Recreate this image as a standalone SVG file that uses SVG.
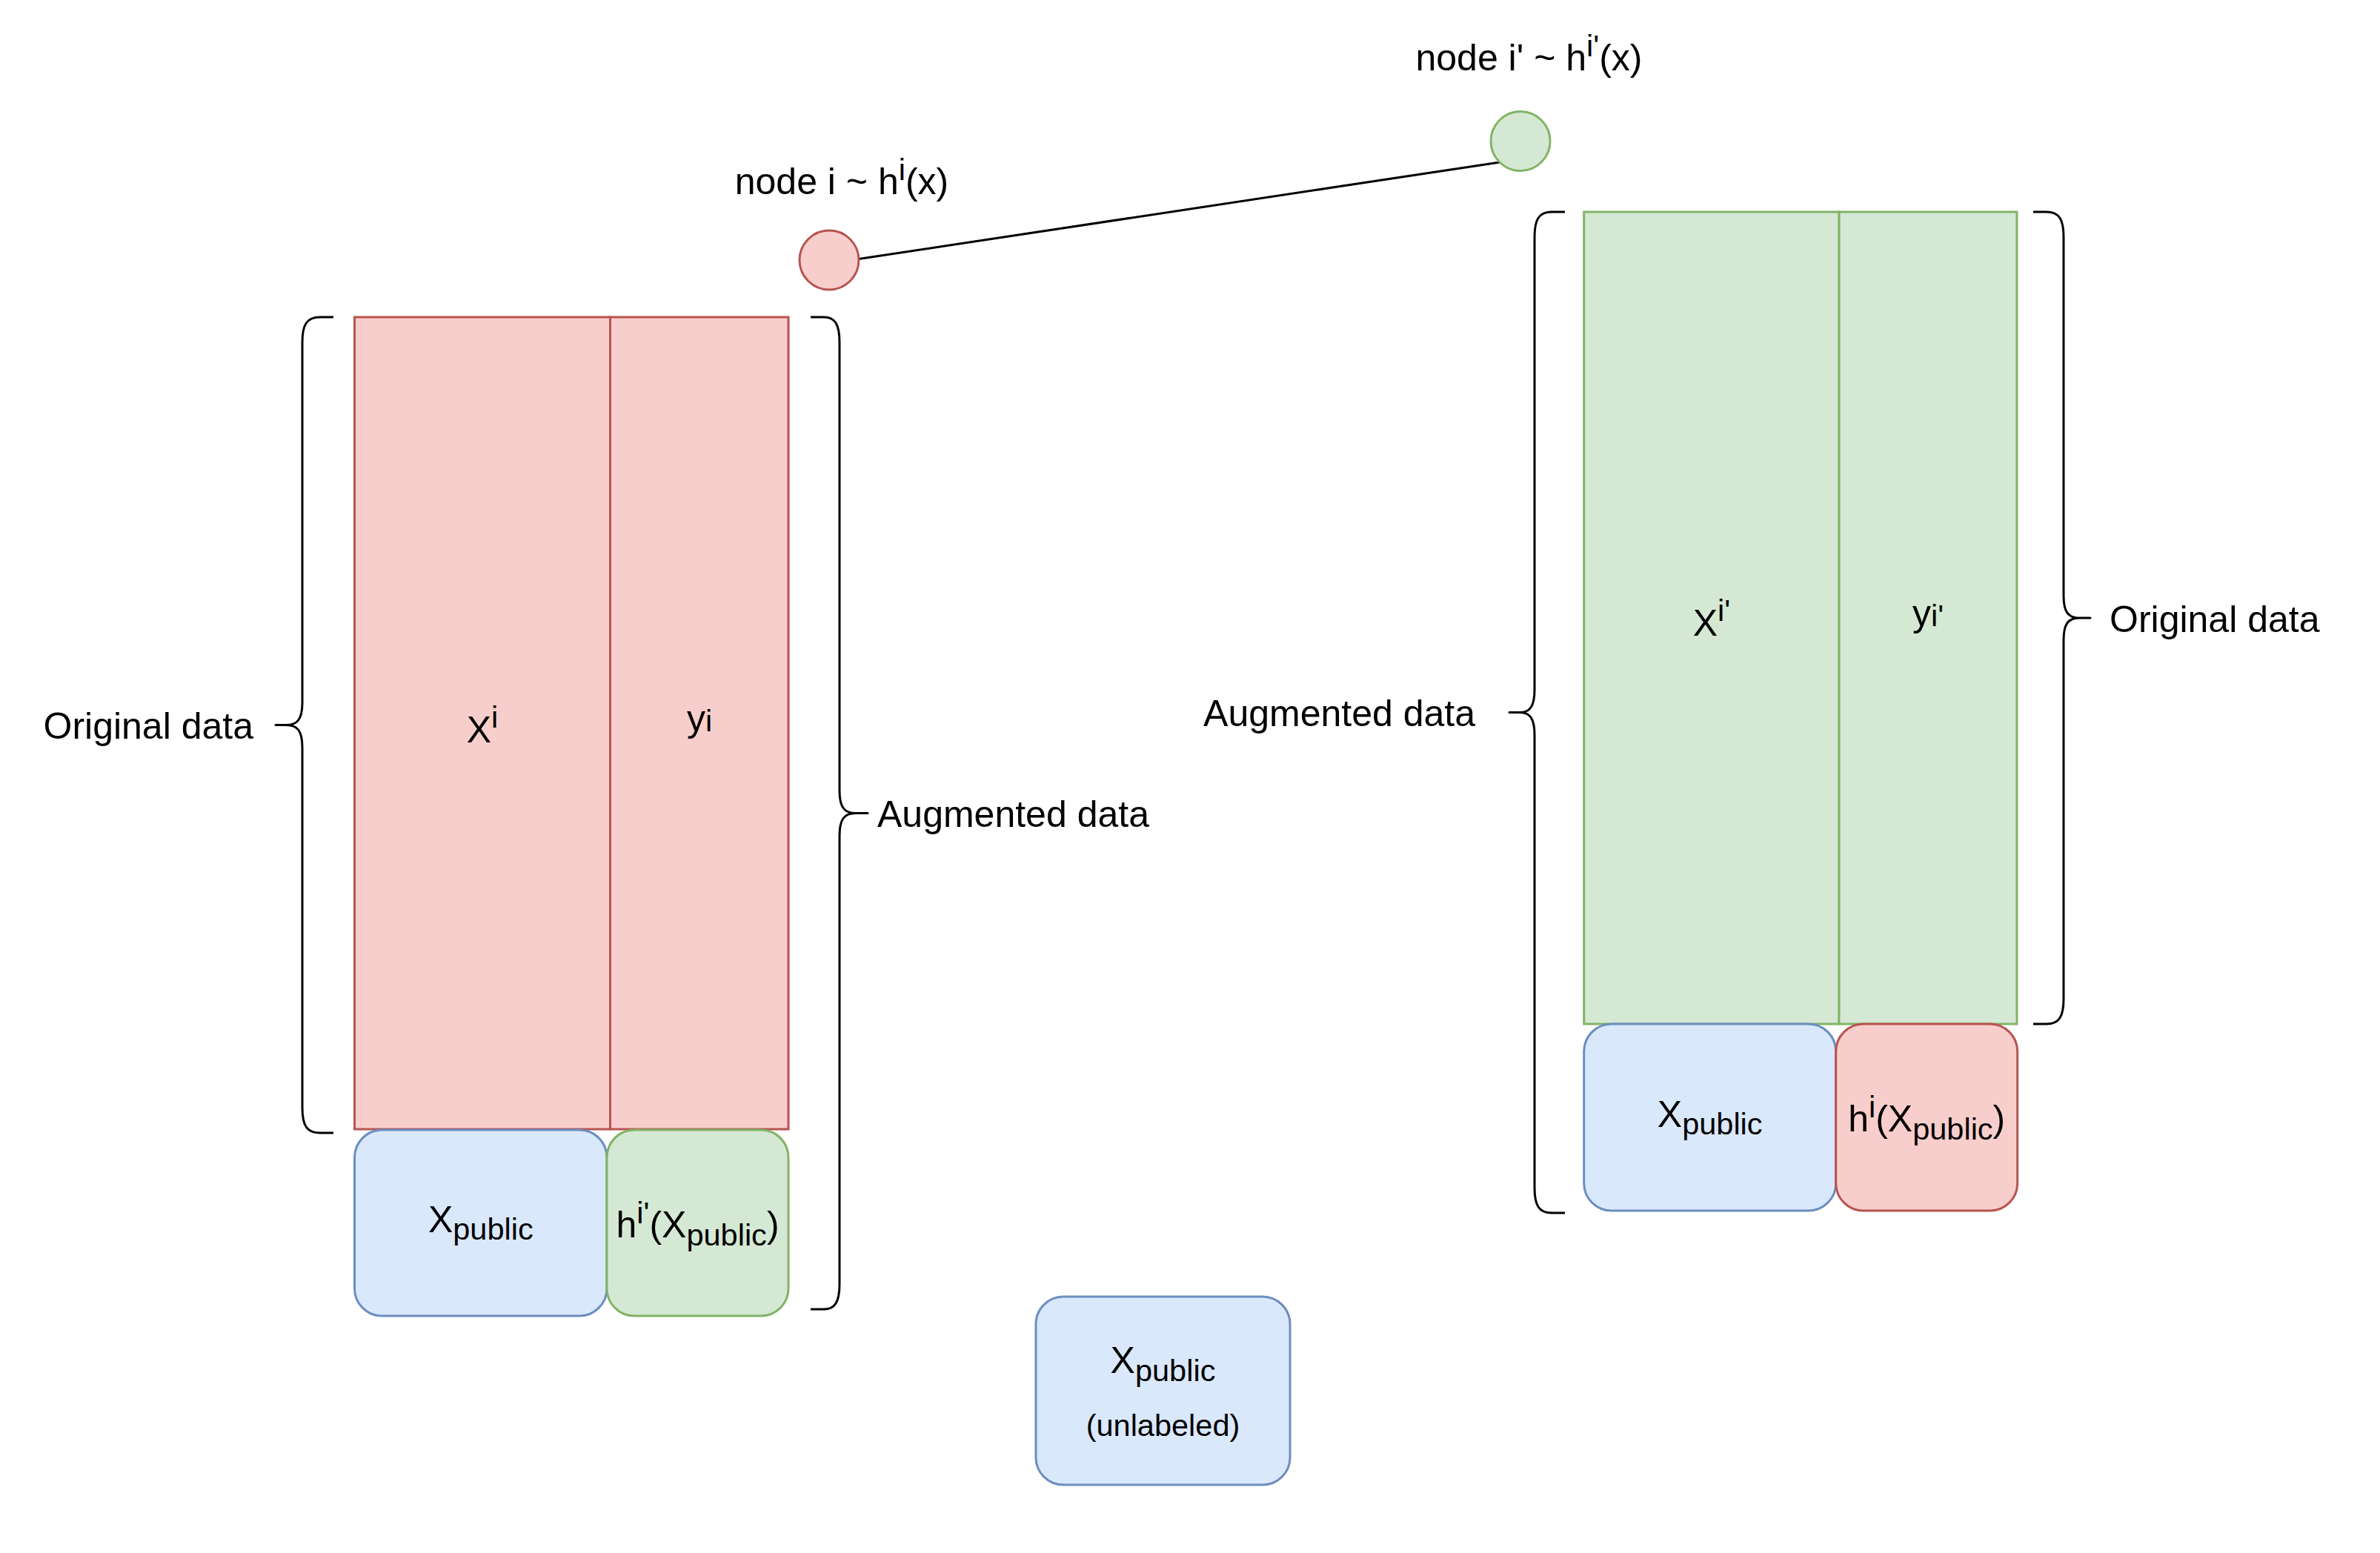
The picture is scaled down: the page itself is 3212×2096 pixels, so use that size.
<svg xmlns="http://www.w3.org/2000/svg" width="3212" height="2096" viewBox="0 0 3212 2096">
<style>
  text { font-family: "Liberation Sans", Arial, Helvetica, sans-serif; font-size: 50px; fill: #000000; }
  .small { font-size: 41.5px; }
  .red { fill: #f8cecc; stroke: #b85450; stroke-width: 3; }
  .green { fill: #d5e8d4; stroke: #82b366; stroke-width: 3; }
  .blue { fill: #dae8fc; stroke: #6c8ebf; stroke-width: 3; }
  .brace { fill: none; stroke: #000000; stroke-width: 3; stroke-linejoin: round; stroke-linecap: butt; }
  .edge { fill: none; stroke: #000000; stroke-width: 3; }
</style>
<rect x="0" y="0" width="3212" height="2096" fill="#ffffff"/>

<g id="connectors">
  <line class="edge" x1="1159" y1="349.5" x2="2024" y2="219"/>
</g>

<g id="node-i">
  <circle class="red" cx="1119" cy="351" r="40"/>
  <text x="1136" y="262" text-anchor="middle">node i ~ h<tspan class="small" dy="-19">i</tspan><tspan dy="19">(x)</tspan></text>
</g>

<g id="node-i-prime">
  <circle class="green" cx="2052" cy="190.5" r="40"/>
  <text x="2063.5" y="95" text-anchor="middle">node i' ~ h<tspan class="small" dy="-19">i'</tspan><tspan dy="19">(x)</tspan></text>
</g>

<g id="left-Xi">
  <rect class="red" x="478.5" y="428" width="345" height="1096"/>
  <text x="651" y="1002" text-anchor="middle">X<tspan class="small" dy="-20">i</tspan></text>
</g>
<g id="left-yi">
  <rect class="red" x="823.5" y="428" width="240.5" height="1096"/>
  <text x="944" y="987" text-anchor="middle">y<tspan class="small">i</tspan></text>
</g>
<g id="left-xpublic">
  <rect class="blue" x="478.5" y="1525" width="340.5" height="251" rx="37" ry="37"/>
  <text x="648.8" y="1663" text-anchor="middle">X<tspan class="small" dy="10">public</tspan></text>
</g>
<g id="left-h-iprime">
  <rect class="green" x="819" y="1525" width="245" height="251" rx="37" ry="37"/>
  <text x="941.5" y="1670" text-anchor="middle">h<tspan class="small" dy="-19">i'</tspan><tspan dy="19">(X</tspan><tspan class="small" dy="11">public</tspan><tspan dy="-11">)</tspan></text>
</g>

<g id="right-Xi">
  <rect class="green" x="2137.7" y="286" width="344.3" height="1096"/>
  <text x="2310" y="858" text-anchor="middle">X<tspan class="small" dy="-20">i'</tspan></text>
</g>
<g id="right-yi">
  <rect class="green" x="2482" y="286" width="240" height="1096"/>
  <text x="2602" y="845" text-anchor="middle">y<tspan class="small">i'</tspan></text>
</g>
<g id="right-xpublic">
  <rect class="blue" x="2137.7" y="1382" width="340" height="252" rx="37" ry="37"/>
  <text x="2307.7" y="1521" text-anchor="middle">X<tspan class="small" dy="10">public</tspan></text>
</g>
<g id="right-h-i">
  <rect class="red" x="2477.7" y="1382" width="245" height="252" rx="37" ry="37"/>
  <text x="2600.2" y="1527" text-anchor="middle">h<tspan class="small" dy="-19">i</tspan><tspan dy="19">(X</tspan><tspan class="small" dy="11">public</tspan><tspan dy="-11">)</tspan></text>
</g>

<g id="unlabeled-xpublic">
  <rect class="blue" x="1398" y="1750" width="343" height="254" rx="37" ry="37"/>
  <text x="1569.5" y="1853" text-anchor="middle">X<tspan class="small" dy="11">public</tspan></text>
  <text class="small" x="1569.5" y="1938" text-anchor="middle">(unlabeled)</text>
</g>

<g id="brace-left-original">
  <path class="brace" d="M450,428 L432,428 C414,428 408,438 408,462 L408,948 C408,970 402,978.5 386,978.5 L372,978.5 L386,978.5 C402,978.5 408,987 408,1009 L408,1495 C408,1519 414,1529 432,1529 L450,1529"/>
  <text x="342" y="997" text-anchor="end">Original data</text>
</g>

<g id="brace-left-augmented">
  <path class="brace" d="M1094,428 L1112,428 C1127,428 1133,438 1133,462 L1133,1067 C1133,1089 1139,1097.5 1155,1097.5 L1171,1097.5 L1155,1097.5 C1139,1097.5 1133,1106 1133,1128 L1133,1733 C1133,1757 1127,1767 1112,1767 L1094,1767"/>
  <text x="1184" y="1116">Augmented data</text>
</g>

<g id="brace-right-augmented">
  <path class="brace" d="M2112,286 L2094,286 C2077,286 2071,296 2071,320 L2071,931 C2071,953 2065,961.5 2051,961.5 L2037,961.5 L2051,961.5 C2065,961.5 2071,970 2071,992 L2071,1603 C2071,1627 2077,1637 2094,1637 L2112,1637"/>
  <text x="1991" y="980" text-anchor="end">Augmented data</text>
</g>

<g id="brace-right-original">
  <path class="brace" d="M2744,286 L2762,286 C2779,286 2785,296 2785,320 L2785,804 C2785,826 2791,834 2807,834 L2821,834 L2807,834 C2791,834 2785,842 2785,864 L2785,1348 C2785,1372 2779,1382 2762,1382 L2744,1382"/>
  <text x="2847" y="853">Original data</text>
</g>
</svg>
